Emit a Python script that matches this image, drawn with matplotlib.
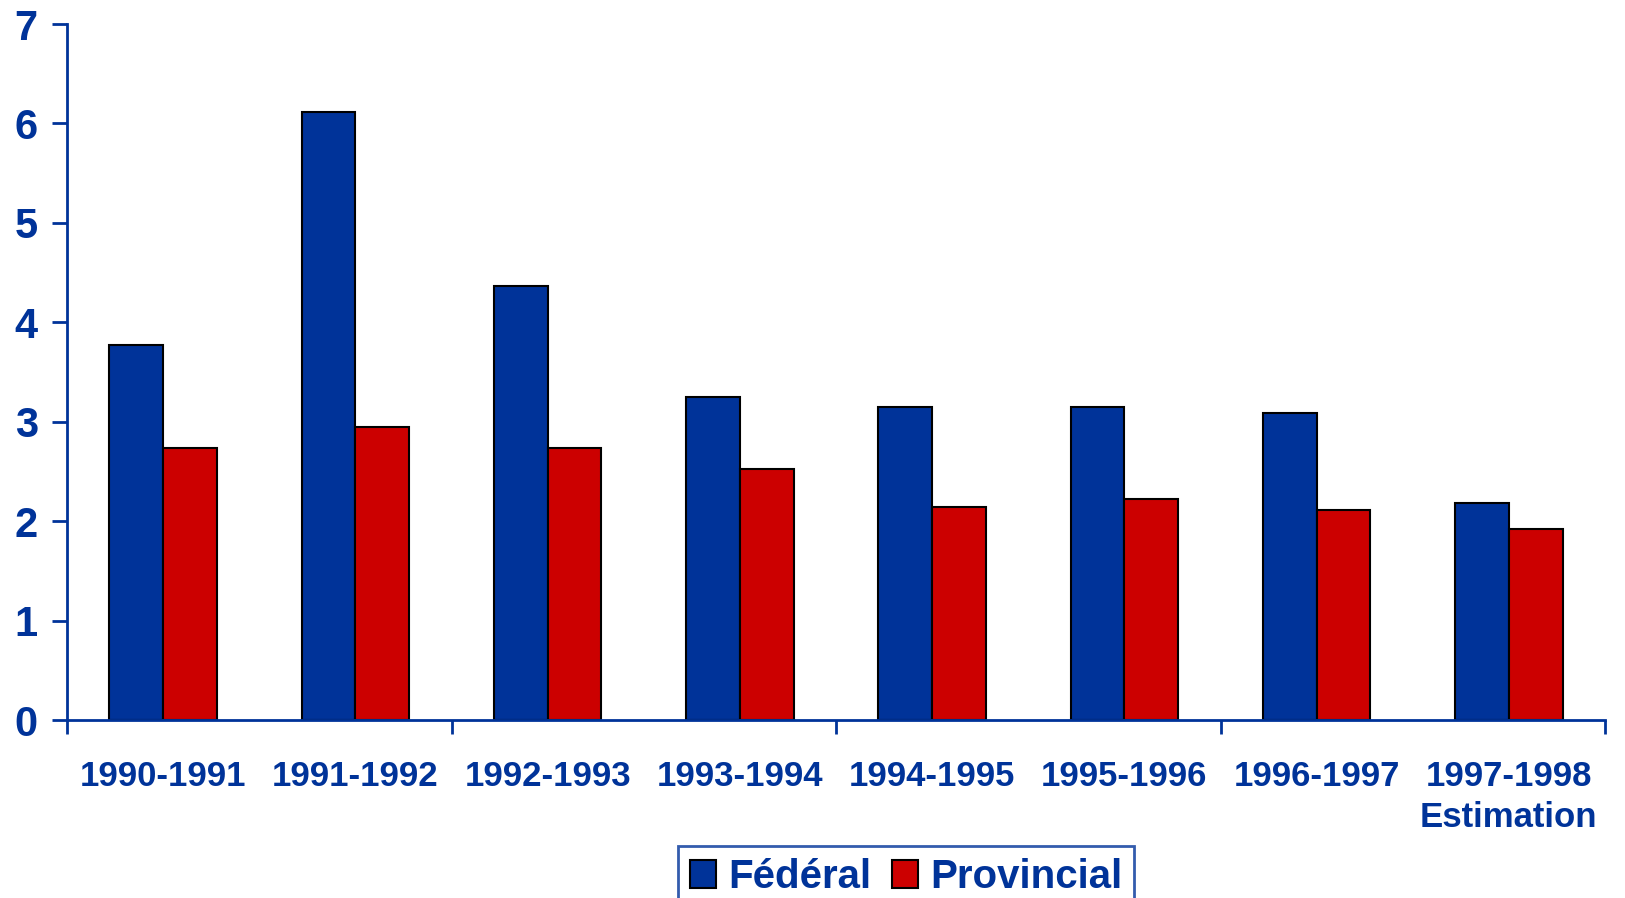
import numpy as np
import matplotlib.pyplot as plt

# valeurs
periodes = ["1990-1991", "1991-1992", "1992-1993", "1993-1994",
            "1994-1995", "1995-1996", "1996-1997", "1997-1998\nEstimation"]
federal = [3.77, 6.11, 4.36, 3.25, 3.15, 3.15, 3.09, 2.18]
provincial = [2.74, 2.95, 2.74, 2.52, 2.14, 2.22, 2.11, 1.92]

BLEU = "#003399"
ROUGE = "#CC0000"

plt.rcParams["font.family"] = ["Liberation Sans", "DejaVu Sans"]
plt.rcParams["font.weight"] = "bold"

fig = plt.figure(figsize=(16.25, 8.98), dpi=100)
ax = fig.add_axes([67 / 1625, 1 - 720 / 898, 1538 / 1625, 696 / 898])

x = np.arange(len(periodes))
w = 0.28
ax.bar(x - w / 2, federal, w, color=BLEU, edgecolor="black", linewidth=1.5, label="Fédéral")
ax.bar(x + w / 2, provincial, w, color=ROUGE, edgecolor="black", linewidth=1.5, label="Provincial")

ax.set_xlim(-0.5, len(periodes) - 0.5)
ax.set_ylim(0, 7)
ax.set_yticks(range(0, 8))

# graduations aux frontieres, une sur deux
ax.set_xticks(np.arange(-0.5, len(periodes), 2))
ax.set_xticklabels([])
ax.set_xticks(x, minor=True)
ax.set_xticklabels(periodes, minor=True, linespacing=1.3)
ax.tick_params(axis="x", which="major", direction="out", length=10, width=2, color=BLEU)
ax.tick_params(axis="x", which="minor", length=0, pad=29, labelsize=25, labelcolor=BLEU)
ax.tick_params(axis="y", direction="out", length=11, width=2, color=BLEU,
               labelsize=30, labelcolor=BLEU, pad=10)
for lab in ax.get_xticklabels(minor=True) + ax.get_yticklabels():
    lab.set_fontweight("bold")

for s in ["top", "right"]:
    ax.spines[s].set_visible(False)
for s in ["left", "bottom"]:
    ax.spines[s].set_color(BLEU)
    ax.spines[s].set_linewidth(2)

leg = fig.legend(loc="upper left", bbox_to_anchor=(678 / 1625, 1 - 846 / 898),
                 ncol=2, fontsize=29, frameon=True, fancybox=False,
                 borderaxespad=0, borderpad=0.3, handlelength=0.65, handleheight=0.7,
                 handletextpad=0.3, columnspacing=0.5)
leg.get_frame().set_edgecolor(BLEU)
leg.get_frame().set_linewidth(2)
for t in leg.get_texts():
    t.set_color(BLEU)
    t.set_fontweight("bold")

fig.savefig("out.png", dpi=100)
